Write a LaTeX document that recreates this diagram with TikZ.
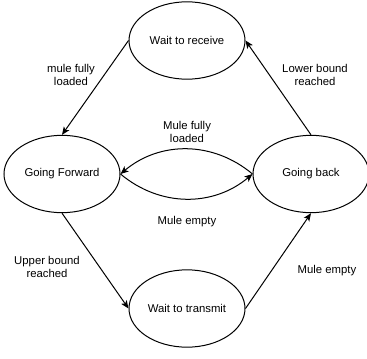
\documentclass[tikz,border=0pt]{standalone}
\usepackage{fontspec}
\setmainfont{Liberation Sans}
\usetikzlibrary{positioning, shapes.geometric, arrows.meta}

\tikzset{
    state/.style={ellipse, draw, line width=0.75pt, minimum width=87pt, minimum height=58pt, inner sep=0pt},
    edgelabel/.style={align=center, inner sep=0pt},
    trans/.style={line width=0.75pt, -{Stealth[length=6pt, width=5pt, inset=1.5pt]}}
}

\begin{document}
\begin{tikzpicture}[x=0.75pt, y=0.75pt, font=\fontsize{8.5}{9.75}\selectfont]
        % keep the page at the size of the picture
        \useasboundingbox (0,0) rectangle (367,358);

        % the states
        \node[state] (recv) at (187,317.5) {Wait to receive};
        \node[state] (fwd)  at (62,184)    {Going Forward};
        \node[state] (back) at (311,184)   {Going back};
        \node[state] (xmit) at (187,49.5)  {Wait to transmit};

        % the transitions
        \draw[trans] (recv.west) -- (fwd.north);
        \draw[trans] (back.north) -- (recv.east);
        \draw[trans] (back.west) to[bend right=40] (fwd.east);
        \draw[trans] (fwd.east) to[bend right=40] (back.west);
        \draw[trans] (fwd.south) -- (xmit.west);
        \draw[trans] (xmit.east) -- (back.south);

        % the labels
        \node[edgelabel] (lfull)  at (71,283)   {mule fully\\loaded};
        \node[edgelabel] (llow)   at (315,283)  {Lower bound\\reached};
        \node[edgelabel] (lback)  at (187,226.5) {Mule fully\\loaded};
        \node[edgelabel] (lempty) at (187,136)  {Mule empty};
        \node[edgelabel] (lup)    at (47,91.5)  {Upper bound\\reached};
        \node[edgelabel] (lmule)  at (327,87)   {Mule empty};
    \end{tikzpicture}
\end{document}
